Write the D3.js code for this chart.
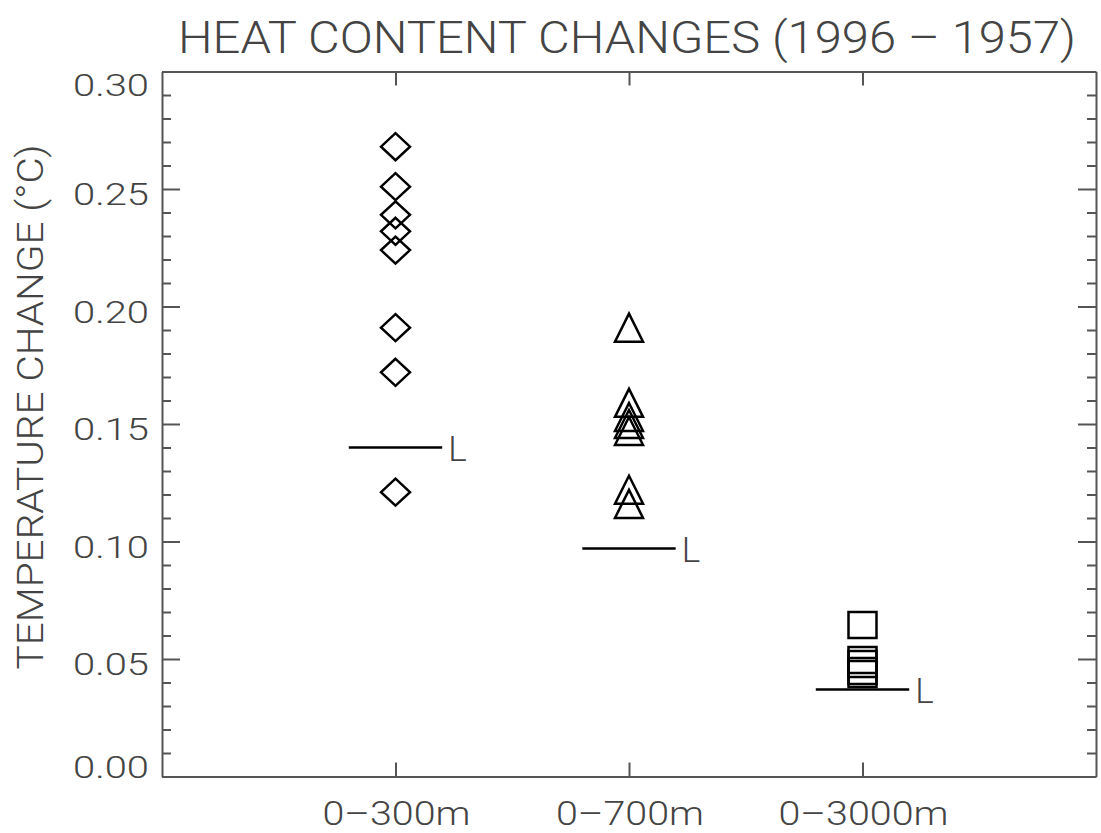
<!DOCTYPE html>
<html>
<head>
<meta charset="utf-8">
<script src="https://cdn.jsdelivr.net/npm/d3@7"></script>
<style>
body { margin: 0; background: #fff; }
text { font-family: Roboto, "DejaVu Sans", sans-serif; font-weight: 300; fill: #444; }
</style>
</head>
<body>
<script>
// data
var categories = ['0–300m', '0–700m', '0–3000m'];
var depth300 = [0.268, 0.251, 0.239, 0.232, 0.224, 0.191, 0.172, 0.121];
var depth700 = [0.191, 0.159, 0.153, 0.150, 0.147, 0.122, 0.116];
var depth3000 = [0.0645, 0.0496, 0.0479, 0.0449, 0.0436];
var lValues = [0.140, 0.097, 0.037];
var yTickValues = d3.range(0, 31).map(function (i) { return i / 100; });
var yMajor = [0, 0.05, 0.10, 0.15, 0.20, 0.25, 0.30];

var svg, x, y;

// plot box (note: "top" is reserved on window)
var plotLeft = 162, plotRight = 1096, plotTop = 71.5, plotBottom = 776.5;

init();

function init() {
    svg = d3.select('body').append('svg')
        .attr('width', 1101)
        .attr('height', 833);

    x = d3.scaleLinear().domain([0, 4]).range([plotLeft, plotRight]);
    y = d3.scaleLinear().domain([0, 0.30]).range([plotBottom, plotTop]);

    drawFrame();
    drawTitles();
    drawLines();
    drawMarkers(depth300, 1, 'diamond');
    drawMarkers(depth700, 2, 'triangle');
    drawMarkers(depth3000, 3, 'square');
}

function isMajor(v) {
    return yMajor.some(function (m) { return Math.abs(m - v) < 1e-9; });
}

function styleAxis(g) {
    g.select('.domain').attr('stroke', '#555').attr('stroke-width', 2);
    g.selectAll('.tick line').attr('stroke', '#555').attr('stroke-width', 2);
}

function drawFrame() {
    var yLeft = svg.append('g')
        .attr('transform', 'translate(' + plotLeft + ',0)')
        .call(d3.axisLeft(y).tickValues(yTickValues).tickSize(-18).tickSizeOuter(0).tickPadding(13)
            .tickFormat(function (d) { return isMajor(d) ? d3.format('.2f')(d) : ''; }));
    styleAxis(yLeft);
    yLeft.selectAll('.tick line').attr('x2', function (d) { return isMajor(d) ? 18 : 9; });
    yLeft.selectAll('.tick text')
        .attr('font-size', 32)
        .attr('dy', function (d) {
            if (Math.abs(d - 0.30) < 1e-9) return 23.5;
            if (d === 0) return 0.5;
            return 15.5;
        })
        .attr('textLength', function (d) { return isMajor(d) ? 76 : null; })
        .attr('lengthAdjust', 'spacingAndGlyphs');

    var yRight = svg.append('g')
        .attr('transform', 'translate(' + plotRight + ',0)')
        .call(d3.axisRight(y).tickValues(yTickValues).tickSize(-18).tickSizeOuter(0).tickFormat(''));
    styleAxis(yRight);
    yRight.selectAll('.tick line').attr('x2', function (d) { return isMajor(d) ? -18 : -9; });

    var xBottom = svg.append('g')
        .attr('transform', 'translate(0,' + plotBottom + ')')
        .call(d3.axisBottom(x).tickValues([1, 2, 3]).tickSize(-14).tickSizeOuter(0).tickFormat(''));
    styleAxis(xBottom);

    var xTop = svg.append('g')
        .attr('transform', 'translate(0,' + plotTop + ')')
        .call(d3.axisTop(x).tickValues([1, 2, 3]).tickSize(-14).tickSizeOuter(0).tickFormat(''));
    styleAxis(xTop);

    svg.selectAll('.catLabel')
        .data(categories)
        .enter().append('text')
        .attr('class', 'catLabel')
        .attr('x', function (d, i) { return x(i + 1) + 1; })
        .attr('y', 825)
        .attr('text-anchor', 'middle')
        .attr('font-size', 33)
        .attr('textLength', function (d) { return d.length > 6 ? 170 : 148; })
        .attr('lengthAdjust', 'spacingAndGlyphs')
        .text(function (d) { return d; });
}

function drawTitles() {
    svg.append('text')
        .attr('x', 178)
        .attr('y', 53)
        .attr('font-size', 44)
        .attr('textLength', 898)
        .attr('lengthAdjust', 'spacingAndGlyphs')
        .text('HEAT CONTENT CHANGES (1996 – 1957)');

    svg.append('text')
        .attr('transform', 'translate(43,407) rotate(-90)')
        .attr('text-anchor', 'middle')
        .attr('font-size', 36)
        .attr('textLength', 525)
        .attr('lengthAdjust', 'spacingAndGlyphs')
        .text('TEMPERATURE CHANGE (°C)');
}

function drawLines() {
    svg.selectAll('.lLine')
        .data(lValues)
        .enter().append('line')
        .attr('class', 'lLine')
        .attr('x1', function (d, i) { return x(i + 1 - 0.2); })
        .attr('x2', function (d, i) { return x(i + 1 + 0.2); })
        .attr('y1', function (d) { return y(d); })
        .attr('y2', function (d) { return y(d); })
        .attr('stroke', '#000')
        .attr('stroke-width', 2.5);

    svg.selectAll('.lText')
        .data(lValues)
        .enter().append('text')
        .attr('class', 'lText')
        .attr('x', function (d, i) { return x(i + 1 + 0.2) + 6; })
        .attr('y', function (d) { return y(d) + 13; })
        .attr('font-size', 35)
        .text('L');
}

function markerPath(type) {
    if (type === 'diamond') return 'M0,-13.5L14.5,0L0,13.5L-14.5,0Z';
    if (type === 'triangle') return 'M0,-14L14,14L-14,14Z';
    return 'M-14,-13L14,-13L14,13L-14,13Z';
}

function drawMarkers(values, pos, type) {
    svg.append('g').selectAll('path')
        .data(values)
        .enter().append('path')
        .attr('transform', function (d) { return 'translate(' + x(pos) + ',' + y(d) + ')'; })
        .attr('d', markerPath(type))
        .attr('fill', 'none')
        .attr('stroke', '#000')
        .attr('stroke-width', 2.5);
}
</script>
</body>
</html>
